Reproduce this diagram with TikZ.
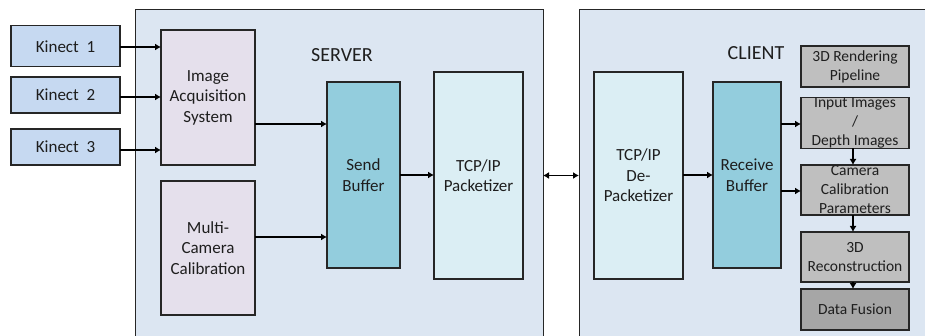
\documentclass[tikz,border=0pt]{standalone}
\usepackage{fontspec}
\setmainfont{Carlito}
\usetikzlibrary{arrows.meta}
\definecolor{panelfill}{HTML}{DCE6F2}
\definecolor{kinfill}{HTML}{C6D9F1}
\definecolor{lavfill}{HTML}{E5E0EC}
\definecolor{buffill}{HTML}{93CDDD}
\definecolor{tcpfill}{HTML}{DBEEF4}
\definecolor{grayfill}{HTML}{BFBFBF}
\definecolor{dgrayfill}{HTML}{A6A6A6}
\definecolor{edge}{HTML}{262626}
\definecolor{txt}{HTML}{1E1E1E}
\tikzset{
  blk/.style={draw=edge, line width=1.2pt, inner sep=0pt, outer sep=0pt, align=center, text=txt,
    font=\fontsize{17}{20.5}\selectfont},
  smallblk/.style={blk, font=\fontsize{15.5}{19}\selectfont},
  panel/.style={draw=edge, line width=1pt, fill=panelfill, inner sep=0pt, outer sep=0pt},
  arr/.style={draw=black, line width=1.4pt, -{Latex[length=6pt,width=7pt]}},
  darr/.style={draw=black, line width=1.4pt, {Latex[length=6pt,width=7pt]}-{Latex[length=6pt,width=7pt]}},
  ttl/.style={font=\fontsize{20}{24}\selectfont, text=txt, inner sep=0pt}
}
\begin{document}
\begin{tikzpicture}[x=1pt,y=-1pt]
\useasboundingbox (0,0) rectangle (925,336);
\clip (0,0) rectangle (925,336);
\fill[white] (0,0) rectangle (925,336);
% panels
\node[panel, minimum width=408pt, minimum height=346pt] (server) at (339,183) {};
\node[panel, minimum width=361pt, minimum height=346pt] (client) at (759.5,183) {};
\node[ttl] (serverlbl) at (342,55) {SERVER};
\node[ttl] (clientlbl) at (756,53) {CLIENT};
% kinects
\node[blk, fill=kinfill, minimum width=109pt, minimum height=41pt] (k1) at (65.5,46.3) {Kinect\ \ 1};
\node[blk, fill=kinfill, minimum width=109pt, minimum height=36pt] (k2) at (65.5,95) {Kinect\ \ 2};
\node[blk, fill=kinfill, minimum width=109pt, minimum height=36pt] (k3) at (65.5,147) {Kinect\ \ 3};
% server blocks
\node[blk, fill=lavfill, minimum width=94pt, minimum height=135pt] (ia) at (208,97.5) {Image\\Acquisition\\System};
\node[blk, fill=lavfill, minimum width=94pt, minimum height=134pt] (mc) at (208,248) {Multi-\\Camera\\Calibration};
\node[blk, fill=buffill, minimum width=73pt, minimum height=186pt] (sb) at (363.5,175) {Send\\Buffer};
\node[blk, fill=tcpfill, minimum width=89pt, minimum height=207pt] (tcp) at (478.5,175.5) {TCP/IP\\Packetizer};
% client blocks
\node[blk, fill=tcpfill, minimum width=89pt, minimum height=207pt] (dep) at (638.5,175.5) {TCP/IP\\De-\\Packetizer};
\node[blk, fill=buffill, minimum width=68pt, minimum height=186pt] (rb) at (747,175) {Receive\\Buffer};
\node[smallblk, fill=grayfill, minimum width=108pt, minimum height=41pt] (rend) at (855,66.5) {3D Rendering\\Pipeline};
\node[smallblk, fill=grayfill, minimum width=108pt, minimum height=50pt] (inp) at (855,123) {Input Images\\/\\Depth Images};
\node[smallblk, fill=grayfill, minimum width=108pt, minimum height=50pt] (cam) at (855,190) {Camera\\Calibration\\Parameters};
\node[smallblk, fill=grayfill, minimum width=108pt, minimum height=50pt] (rec) at (855,257) {3D\\Reconstruction};
\node[smallblk, fill=dgrayfill, minimum width=108pt, minimum height=41pt] (df) at (855,309.5) {Data Fusion};
% connectors
\draw[arr] ([yshift=-0.7pt]k1.east) -- ([yshift=-0.7pt]k1.east -| ia.west);
\draw[arr] ([yshift=-2pt]k2.east) -- ([yshift=-2pt]k2.east -| ia.west);
\draw[arr] ([yshift=-3pt]k3.east) -- ([yshift=-3pt]k3.east -| ia.west);
\draw[arr] (ia.east |- 0,124) -- (sb.west |- 0,124);
\draw[arr] (mc.east |- 0,237) -- (sb.west |- 0,237);
\draw[arr] (sb.east) -- (sb.east -| tcp.west);
\draw[darr] (tcp.east -| server.east) -- (tcp.east -| client.west);
\draw[arr] (dep.east |- sb.east) -- (rb.west |- sb.east);
\draw[arr] (rb.east |- 0,124) -- (inp.west |- 0,124);
\draw[arr] (rb.east |- 0,191) -- (cam.west |- 0,191);
\draw[arr] ([xshift=-2pt]inp.south) -- ([xshift=-2pt]cam.north);
\draw[arr] ([xshift=-2pt]cam.south) -- ([xshift=-2pt]rec.north);
\draw[arr] ([xshift=-2pt]rec.south) -- ([xshift=-2pt]df.north);
\end{tikzpicture}
\end{document}
